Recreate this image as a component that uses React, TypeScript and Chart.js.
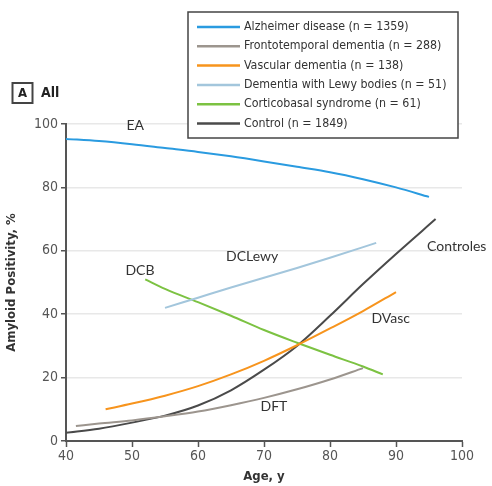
import React, { useEffect, useRef } from "react";
import { Chart, registerables } from "chart.js";

Chart.register(...registerables);

// ---- Data ----
const seriesNames = [
  "Alzheimer disease (n = 1359)",
  "Frontotemporal dementia (n = 288)",
  "Vascular dementia (n = 138)",
  "Dementia with Lewy bodies (n = 51)",
  "Corticobasal syndrome (n = 61)",
  "Control (n = 1849)",
];

const alzAges = [40, 45, 50, 55, 60, 65, 70, 75, 80, 85, 90, 95];
const alzValues = [95.3, 94.6, 93.6, 92.4, 91.2, 89.8, 88.2, 86.5, 84.8, 82.6, 80, 77];

const ftdAges = [41.5, 45, 50, 55, 60, 65, 70, 75, 80, 85];
const ftdValues = [4.7, 5.5, 6.5, 7.8, 9.3, 11.3, 13.6, 16.3, 19.4, 23];

const vascAges = [46, 50, 55, 60, 65, 70, 75, 80, 85, 90];
const vascValues = [10, 11.8, 14.3, 17.3, 21, 25.3, 30.2, 35.5, 41, 47];

const lewyAges = [55, 60, 65, 70, 75, 80, 87];
const lewyValues = [42, 45.2, 48.4, 51.5, 54.6, 57.8, 62.5];

const cbsAges = [52, 55, 60, 65, 70, 75, 80, 85, 88];
const cbsValues = [51, 48, 43.8, 39.5, 35, 31, 27.2, 23.5, 21];

const ctrlAges = [40, 45, 50, 55, 60, 65, 70, 75, 80, 85, 90, 96];
const ctrlValues = [2.6, 3.9, 5.8, 8, 11.2, 16, 22.5, 30, 39.5, 49.5, 59, 70];

const seriesColors = ["#2a9be0", "#9c958e", "#f7941d", "#a3c6dc", "#7cc242", "#4a4a4a"];

const xTicks = [40, 50, 60, 70, 80, 90, 100];
const yTicks = [0, 20, 40, 60, 80, 100];

const annotationTexts = ["EA", "DCB", "DCLewy", "Controles", "DVasc", "DFT"];
const annotationAges = [50.5, 51.2, 68.2, 99.2, 89.2, 71.5];
const annotationValues = [99.6, 53.8, 58.3, 61.5, 38.8, 10.8];

const xTitle = "Age, y";
const yTitle = "Amyloid Positivity, %";
const panelLetter = "A";
const panelTitle = "All";

const toPoints = (xs: number[], ys: number[]) => xs.map((x, i) => ({ x, y: ys[i] }));

const NARROW = "'Liberation Sans Narrow', 'DejaVu Sans Condensed', sans-serif";
const LABEL = "Lato, 'Open Sans', sans-serif";

export default function App() {
  const ref = useRef<HTMLCanvasElement>(null);

  useEffect(() => {
    if (!ref.current) return;
    const allX = [alzAges, ftdAges, vascAges, lewyAges, cbsAges, ctrlAges];
    const allY = [alzValues, ftdValues, vascValues, lewyValues, cbsValues, ctrlValues];

    const overlayPlugin = {
      id: "overlay",
      afterDraw(chart: any) {
        const ctx = chart.ctx as CanvasRenderingContext2D;
        const xs = chart.scales.x;
        const ys = chart.scales.y;
        ctx.save();
        // annotations
        ctx.fillStyle = "#333";
        ctx.font = `14px ${LABEL}`;
        ctx.textAlign = "center";
        ctx.textBaseline = "middle";
        annotationTexts.forEach((t, i) => {
          ctx.fillText(t, xs.getPixelForValue(annotationAges[i]), ys.getPixelForValue(annotationValues[i]));
        });

        // legend box
        const bx = 188, by = 12, bw = 270, bh = 126;
        ctx.fillStyle = "#fff";
        ctx.fillRect(bx, by, bw, bh);
        ctx.strokeStyle = "#444";
        ctx.lineWidth = 1.5;
        ctx.strokeRect(bx, by, bw, bh);
        ctx.font = `12.3px ${NARROW}`;
        ctx.textAlign = "left";
        ctx.textBaseline = "middle";
        seriesNames.forEach((name, i) => {
          const yy = 27 + i * 19.3;
          ctx.strokeStyle = seriesColors[i];
          ctx.lineWidth = 2.5;
          ctx.beginPath();
          ctx.moveTo(197, yy);
          ctx.lineTo(240, yy);
          ctx.stroke();
          ctx.fillStyle = "#333";
          ctx.fillText(name, 244, yy);
        });

        // panel label
        ctx.strokeStyle = "#444";
        ctx.lineWidth = 2;
        ctx.strokeRect(12.5, 83, 20, 20);
        ctx.fillStyle = "#222";
        ctx.font = `bold 13px ${NARROW}`;
        ctx.textAlign = "center";
        ctx.fillText(panelLetter, 22.5, 93.5);
        ctx.textAlign = "left";
        ctx.font = `bold 14px ${NARROW}`;
        ctx.fillText(panelTitle, 41, 93);
        ctx.restore();
      },
    };

    const chart = new Chart(ref.current, {
      type: "line",
      data: {
        datasets: seriesNames.map((name, i) => ({
          label: name,
          data: toPoints(allX[i], allY[i]),
          borderColor: seriesColors[i],
          backgroundColor: seriesColors[i],
          borderWidth: 2,
          pointRadius: 0,
          fill: false,
          cubicInterpolationMode: "monotone" as const,
        })),
      },
      options: {
        animation: false,
        responsive: false,
        devicePixelRatio: 1,
        layout: { padding: { top: 124, right: 30, left: 0, bottom: 0 } },
        plugins: { legend: { display: false }, tooltip: { enabled: false } },
        scales: {
          x: {
            type: "linear",
            min: 40,
            max: 100,
            afterBuildTicks: (s: any) => {
              s.ticks = xTicks.map((v) => ({ value: v }));
            },
            afterFit: (s: any) => {
              s.height = 45;
            },
            border: { color: "#555", width: 2 },
            grid: { drawOnChartArea: false, tickLength: 6, tickColor: "#555", tickWidth: 1.5 },
            ticks: { color: "#555", font: { family: NARROW, size: 14 }, padding: 1, maxRotation: 0 },
            title: {
              display: true,
              text: xTitle,
              color: "#333",
              font: { family: NARROW, size: 13, weight: "bold" },
              padding: { top: 0, bottom: 2 },
            },
          },
          y: {
            type: "linear",
            min: 0,
            max: 100,
            afterBuildTicks: (s: any) => {
              s.ticks = yTicks.map((v) => ({ value: v }));
            },
            afterFit: (s: any) => {
              s.width = 66;
            },
            border: { color: "#555", width: 2 },
            grid: { color: "#e8e8e8", lineWidth: 1.5, tickLength: 5, tickColor: "#555", tickWidth: 1.5 },
            ticks: { color: "#555", font: { family: NARROW, size: 14 }, padding: 3 },
            title: {
              display: true,
              text: yTitle,
              color: "#333",
              font: { family: NARROW, size: 13, weight: "bold" },
              padding: { top: 4, bottom: 0 },
            },
          },
        },
      },
      plugins: [overlayPlugin],
    });
    return () => chart.destroy();
  }, []);

  return (
    <div style={{ position: "fixed", left: 0, top: 0, width: 492, height: 486, background: "#fff" }}>
      <canvas ref={ref} width={492} height={486} style={{ display: "block" }} />
    </div>
  );
}
